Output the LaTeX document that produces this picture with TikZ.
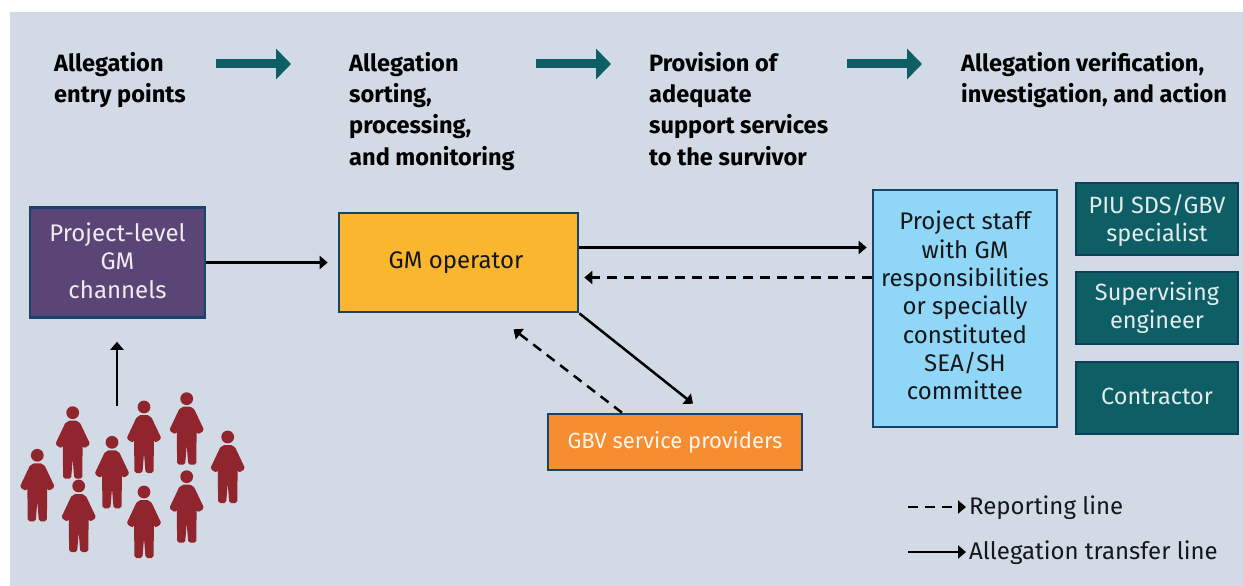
\documentclass[tikz,border=0pt]{standalone}
\usepackage{fontspec}
\setmainfont{Fira Sans}
\usetikzlibrary{arrows.meta}
\definecolor{bgc}{RGB}{210,218,230}
\definecolor{tealc}{RGB}{14,94,101}
\definecolor{tealb}{RGB}{10,64,90}
\definecolor{purp}{RGB}{91,68,118}
\definecolor{navy}{RGB}{22,68,108}
\definecolor{gold}{RGB}{251,182,47}
\definecolor{orng}{RGB}{246,141,49}
\definecolor{sky}{RGB}{144,215,247}
\definecolor{redp}{RGB}{145,37,45}
\definecolor{ink}{RGB}{20,22,26}
\newcommand{\liftby}[1]{\\[\dimexpr#1-28.3pt\relax]\mbox{}}
\tikzset{
  boxs/.style={draw=navy,line width=2.6pt,inner sep=0pt,align=center,font=\fontsize{24}{28.3}\selectfont,text=ink},
  tealbox/.style={boxs,fill=tealc,draw=tealb,text=white!88!tealc,font=\fontsize{23.5}{28.3}\selectfont},
  head/.style={anchor=north west,inner sep=0pt,align=left,font=\fontsize{23.6}{31.3}\selectfont\bfseries,text=black},
  leg/.style={anchor=base west,inner sep=0pt,font=\fontsize{24}{28}\selectfont,text=ink},
  flowa/.style={line width=2.5pt,draw=black,-{Triangle[length=8pt,width=13pt]}},
  flowb/.style={flowa,dash pattern=on 10pt off 7pt},
  stage/.style={line width=9pt,draw=tealc,-{Triangle[length=15pt,width=30pt,fill=tealc]}},
  person/.pic={
    \fill[redp] (0,0) circle (6.4);
    \filldraw[redp,line width=4pt,line join=round] (-3,10) -- (3,10) -- (6,12) -- (15,31) -- (12,33) -- (8,23) -- (7.6,64) -- (3.4,64) -- (2,46) -- (-2,46) -- (-3.4,64) -- (-7.6,64) -- (-8,23) -- (-12,33) -- (-15,31) -- (-6,12) -- cycle;
  }
}
\begin{document}
\begin{tikzpicture}[x=1pt,y=-1pt]
\useasboundingbox (0,0) rectangle (1243,586);
\fill[bgc] (10,12) rectangle (1243,586);

\node[head] (h1) at (54,52) {Allegation\\entry points};
\node[head] (h2) at (349,52) {Allegation\\sorting,\\processing,\\and monitoring};
\node[head] (h3) at (649,52) {Provision of\\adequate\\support services\\to the survivor};
\node[head] (h4) at (961,52) {Allegation verification,\\investigation, and action};

\coordinate (a1s) at (216,64); \coordinate (a1e) at (291,64);
\coordinate (a2s) at (536,64); \coordinate (a2e) at (611,64);
\coordinate (a3s) at (847,64); \coordinate (a3e) at (922,64);
\draw[stage] (a1s) -- (a1e);
\draw[stage] (a2s) -- (a2e);
\draw[stage] (a3s) -- (a3e);

\node[boxs,fill=purp,text=white!90!purp,minimum width=175pt,minimum height=110pt] (chan) at (117.5,262.5) {Project-level\\GM\\channels\liftby{4pt}};
\node[boxs,fill=gold,minimum width=239pt,minimum height=99pt] (gm) at (458.5,262.5) {\hspace*{-5pt}GM operator};
\node[boxs,fill=orng,text=white!92!orng,minimum width=254pt,minimum height=56pt,font=\fontsize{22}{28}\selectfont] (gbv) at (675,442) {GBV service providers};
\node[boxs,fill=sky,minimum width=184pt,minimum height=237pt] (staff) at (965,308.5) {Project staff\\with GM\\responsibilities\\or specially\\constituted\\SEA/SH\\committee\liftby{6pt}};
\node[tealbox,minimum width=162pt,minimum height=72pt] (piu) at (1157,219) {PIU SDS/GBV\\specialist\liftby{2pt}};
\node[tealbox,minimum width=162pt,minimum height=72pt] (sup) at (1157,308) {Supervising\\engineer};
\node[tealbox,minimum width=162pt,minimum height=72pt] (con) at (1157,398) {Contractor\liftby{3pt}};

\pic at (37.3,455.3) {person};
\pic at (72.7,412.7) {person};
\pic at (112,442.3) {person};
\pic at (144,407) {person};
\pic at (186.7,398.7) {person};
\pic at (227.7,437) {person};
\pic at (78.7,486) {person};
\pic at (144,492) {person};
\pic at (186.7,476.7) {person};

\coordinate (crowd) at (117,406);
\coordinate (gmhi) at ([yshift=15pt]gm.east);
\coordinate (gmlo) at ([yshift=-15pt]gm.east);
\coordinate (gbvin) at ([xshift=18pt,yshift=9pt]gbv.north);
\coordinate (gbvout) at ([xshift=-53pt]gbv.north);
\coordinate (gmret) at ([xshift=55pt,yshift=-16pt]gm.south);
\draw[flowa,shorten >=23pt] (crowd) -- (chan.south -| crowd);
\draw[flowa,shorten >=10pt] (chan.east) -- (chan.east -| gm.west);
\draw[flowa,shorten >=5pt] (gmhi) -- (gmhi -| staff.west);
\draw[flowb,shorten >=5pt] (gmlo -| staff.west) -- (gmlo);
\draw[flowa] (gm.south east) -- (gbvin);
\draw[flowb] (gbvout) -- (gmret);

\coordinate (l1s) at (908,507); \coordinate (l2s) at (908,552);
\node[leg] (l1) at (969,514.5) {Reporting line};
\node[leg] (l2) at (969,559.5) {Allegation transfer line};
\draw[flowb,shorten >=3pt] (l1s) -- (l1s -| l1.west);
\draw[flowa,shorten >=3pt] (l2s) -- (l2s -| l2.west);
\end{tikzpicture}
\end{document}
